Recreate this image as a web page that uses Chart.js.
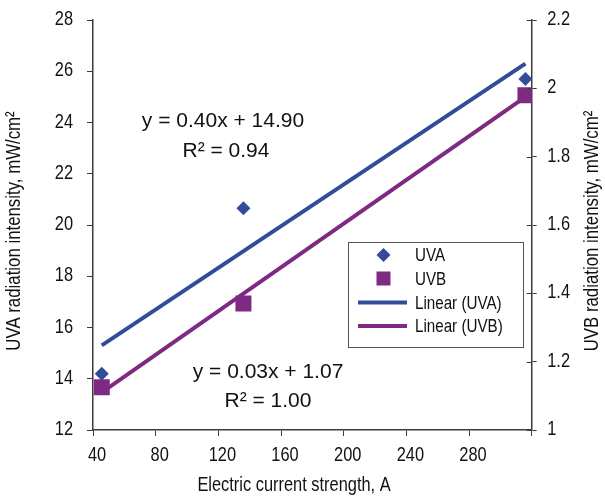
<!DOCTYPE html>
<html>
<head>
<meta charset="utf-8">
<script src="https://cdn.jsdelivr.net/npm/chart.js@4/dist/chart.umd.min.js"></script>
<style>
  html, body { margin: 0; padding: 0; background: #fff; }
  #wrap { width: 605px; height: 501px; position: relative; }
</style>
</head>
<body>
<div id="wrap"><canvas id="c" width="605" height="501"></canvas></div>
<script>
// ---- data ----
const currentA = [45.6, 136, 316];          // Electric current strength, A
const uvaValues = [14.2, 20.65, 25.7];       // UVA, mW/cm2 (left axis)
const uvbValues = [1.125, 1.37, 1.98];       // UVB, mW/cm2 (right axis)
const trendX = [45.6, 316];                  // trendline end points (x)
const uvaTrend = [15.3, 26.3];               // Linear (UVA)
const uvbTrend = [1.11, 1.975];              // Linear (UVB)
const seriesNames = ['UVA', 'UVB', 'Linear (UVA)', 'Linear (UVB)'];
const uvaEquation = ['y = 0.40x + 14.90', 'R\u00B2 = 0.94'];
const uvbEquation = ['y = 0.03x + 1.07', 'R\u00B2 = 1.00'];
const xTickValues = [40, 80, 120, 160, 200, 240, 280, 320];
const xTickLabels = ['40', '80', '120', '160', '200', '240', '280', ''];
const yTickLabels = ['12', '14', '16', '18', '20', '22', '24', '26', '28'];
const y1TickLabels = ['1', '1.2', '1.4', '1.6', '1.8', '2', '2.2'];
const xTitle = 'Electric current strength, A';
const yTitle = 'UVA radiation intensity, mW/cm\u00B2';
const y1Title = 'UVB radiation intensity, mW/cm\u00B2';

const BLUE = '#334C99';
const PURPLE = '#7E2A82';
const AXIS = '#3a3a3a';
const TEXT = '#111';
const SANS = "'Liberation Sans', Arial, sans-serif";
const NARROW_X = 0.82; // horizontal squeeze to imitate a narrow face

const pts = (xs, ys) => xs.map((x, i) => ({ x: x, y: ys[i] }));

function txt(ctx, s, x, y, size, align, rot, sx) {
  ctx.save();
  ctx.translate(x, y);
  if (rot) ctx.rotate(rot);
  ctx.scale(sx, 1);
  ctx.font = size + 'px ' + SANS;
  ctx.fillStyle = TEXT;
  ctx.textAlign = align;
  ctx.textBaseline = 'middle';
  ctx.fillText(s, 0, 0);
  ctx.restore();
}

const extras = {
  id: 'extras',
  afterDraw(chart) {
    const ctx = chart.ctx;
    const a = chart.chartArea;
    const { x, y, y1 } = chart.scales;
    ctx.save();
    // right axis ticks crossing into the plot
    ctx.strokeStyle = AXIS;
    ctx.lineWidth = 1;
    y1.ticks.forEach(t => {
      const py = Math.round(y1.getPixelForValue(t.value)) + 0.5;
      ctx.beginPath();
      ctx.moveTo(a.right - 5, py);
      ctx.lineTo(a.right, py);
      ctx.stroke();
    });
    ctx.restore();

    // tick labels (positioned by the scales)
    x.ticks.forEach(t => {
      const lab = xTickLabels[xTickValues.indexOf(t.value)] || '';
      if (lab) txt(ctx, lab, x.getPixelForValue(t.value) + 4, a.bottom + 25, 20, 'center', 0, NARROW_X);
    });
    y.ticks.forEach((t, i) => {
      txt(ctx, yTickLabels[i], a.left - 20, y.getPixelForValue(t.value) - 0.5, 20, 'right', 0, NARROW_X);
    });
    y1.ticks.forEach((t, i) => {
      txt(ctx, y1TickLabels[i], a.right + 15.5, y1.getPixelForValue(t.value) - 0.5, 20, 'left', 0, NARROW_X);
    });

    // axis titles
    txt(ctx, xTitle, 294, 485, 20, 'center', 0, NARROW_X);
    txt(ctx, yTitle, 14, 231, 20.5, 'center', -Math.PI / 2, NARROW_X);
    txt(ctx, y1Title, 592, 231, 20.5, 'center', -Math.PI / 2, NARROW_X);

    // equations
    txt(ctx, uvaEquation[0], 223, 121, 21, 'center', 0, 1);
    txt(ctx, uvaEquation[1], 226, 151, 21, 'center', 0, 1);
    txt(ctx, uvbEquation[0], 268, 372, 21, 'center', 0, 1);
    txt(ctx, uvbEquation[1], 268, 401, 21, 'center', 0, 1);

    // legend
    ctx.save();
    const lx = 348.5, ly = 242.5, lw = 175, lh = 105;
    ctx.fillStyle = '#fff';
    ctx.fillRect(lx, ly, lw, lh);
    ctx.strokeStyle = '#555';
    ctx.lineWidth = 1;
    ctx.strokeRect(lx, ly, lw, lh);
    const rows = [255, 278.5, 302.5, 326];
    const mx = 383.5;
    ctx.fillStyle = BLUE;
    ctx.beginPath();
    ctx.moveTo(mx, rows[0] - 7); ctx.lineTo(mx + 7, rows[0]);
    ctx.lineTo(mx, rows[0] + 7); ctx.lineTo(mx - 7, rows[0]);
    ctx.closePath(); ctx.fill();
    ctx.fillStyle = PURPLE;
    ctx.fillRect(mx - 7, rows[1] - 7, 14, 14);
    ctx.lineWidth = 4;
    ctx.strokeStyle = BLUE;
    ctx.beginPath(); ctx.moveTo(358, rows[2]); ctx.lineTo(407, rows[2]); ctx.stroke();
    ctx.strokeStyle = PURPLE;
    ctx.beginPath(); ctx.moveTo(358, rows[3]); ctx.lineTo(407, rows[3]); ctx.stroke();
    ctx.restore();
    seriesNames.forEach((n, i) => txt(ctx, n, 415, rows[i] + 1, 18.5, 'left', 0, NARROW_X));
  }
};

new Chart(document.getElementById('c'), {
  type: 'scatter',
  data: {
    datasets: [
      { label: seriesNames[2], type: 'line', data: pts(trendX, uvaTrend), yAxisID: 'y',
        borderColor: BLUE, borderWidth: 4, pointRadius: 0, fill: false, order: 3 },
      { label: seriesNames[3], type: 'line', data: pts(trendX, uvbTrend), yAxisID: 'y1',
        borderColor: PURPLE, borderWidth: 4, pointRadius: 0, fill: false, order: 4 },
      { label: seriesNames[0], data: pts(currentA, uvaValues), yAxisID: 'y',
        pointStyle: 'rectRot', pointRadius: 7, backgroundColor: BLUE, borderColor: BLUE,
        borderWidth: 0, order: 1 },
      { label: seriesNames[1], data: pts(currentA, uvbValues), yAxisID: 'y1',
        pointStyle: 'rect', pointRadius: 11.3, backgroundColor: PURPLE, borderColor: PURPLE,
        borderWidth: 0, order: 2 }
    ]
  },
  options: {
    responsive: false,
    animation: false,
    layout: { padding: { top: 20, left: 0, right: 0, bottom: 0 } },
    plugins: { legend: { display: false }, tooltip: { enabled: false } },
    scales: {
      x: {
        type: 'linear', min: 40, max: 320,
        afterBuildTicks: s => { s.ticks = xTickValues.map(v => ({ value: v })); },
        afterFit: s => { s.height = 71; },
        ticks: { display: false },
        grid: { drawOnChartArea: false, color: AXIS, tickLength: 6, tickWidth: 1 },
        border: { color: AXIS, width: 1.5 }
      },
      y: {
        type: 'linear', position: 'left', min: 12, max: 28,
        ticks: { stepSize: 2, display: false },
        afterFit: s => { s.width = 93; },
        grid: { drawOnChartArea: false, color: AXIS, tickLength: 6, tickWidth: 1 },
        border: { color: AXIS, width: 1.5 }
      },
      y1: {
        type: 'linear', position: 'right', min: 1, max: 2.2,
        ticks: { stepSize: 0.2, display: false },
        afterFit: s => { s.width = 73.3; },
        grid: { drawOnChartArea: false, color: AXIS, tickLength: 5, tickWidth: 1 },
        border: { color: AXIS, width: 1.5 }
      }
    }
  },
  plugins: [extras]
});
</script>
</body>
</html>
